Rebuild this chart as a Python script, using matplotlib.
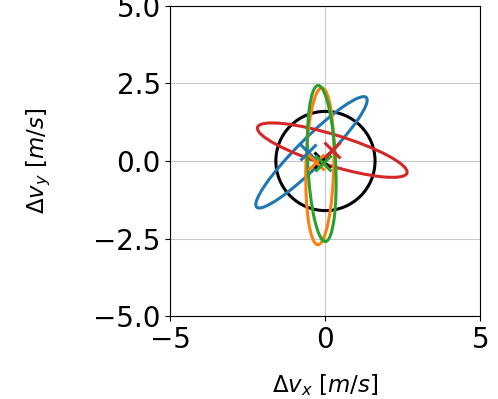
import numpy as np
import matplotlib
matplotlib.use("Agg")
import matplotlib.pyplot as plt
from matplotlib.patches import Ellipse

# ellipse centers, semi-axes and tilt (deg)
colors = ["black", "tab:blue", "tab:red", "tab:orange", "tab:green"]
cx = [0.0, -0.45, 0.22, -0.18, -0.12]
cy = [0.0, 0.28, 0.35, -0.17, -0.08]
semi_a = [1.6, 2.5, 2.52, 2.53, 2.52]
semi_b = [1.6, 0.45, 0.5, 0.45, 0.45]
angle = [0, 45, -17, 88.5, 92.7]
# marker positions
mx = [-0.1, -0.56, 0.21, -0.3, -0.08]
my = [0.03, 0.29, 0.35, -0.03, -0.06]

fig = plt.figure(figsize=(4.98, 3.99), dpi=100)
ax = fig.add_axes([0.341, 0.208, 0.625, 0.777])

for c, x, y, a, b, t in zip(colors, cx, cy, semi_a, semi_b, angle):
    e = Ellipse((x, y), 2 * a, 2 * b, angle=t, fill=False, edgecolor=c, lw=2.2)
    ax.add_patch(e)
for c, x, y in zip(colors, mx, my):
    ax.plot(x, y, "x", color=c, ms=11, mew=2.2)

ax.set_xlim(-5, 5)
ax.set_ylim(-5, 5)
ax.set_xticks([-5, 0, 5])
ax.set_yticks([-5, -2.5, 0, 2.5, 5])
ax.set_aspect("equal")
ax.grid(True, color="#c8c8c8")
ax.set_axisbelow(True)
ax.tick_params(labelsize=20)
ax.set_xlabel(r"$\Delta v_x\ [m/s]$", fontsize=16.5)
ax.set_ylabel(r"$\Delta v_y\ [m/s]$", fontsize=16.5)
ax.xaxis.set_label_coords(0.5, -0.18)
ax.yaxis.set_label_coords(-0.38, 0.5)

fig.savefig("out.png", dpi=100)
